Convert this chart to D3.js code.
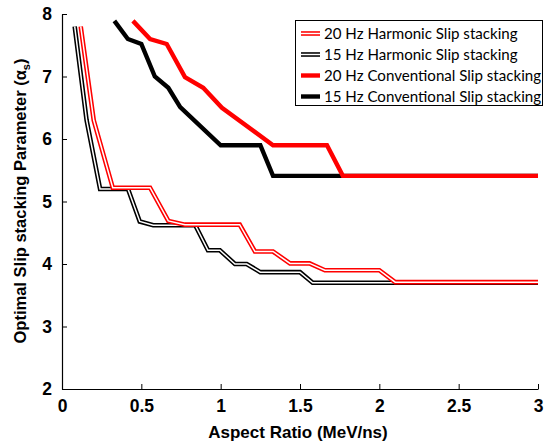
<!DOCTYPE html>
<html>
<head>
<meta charset="utf-8">
<script src="https://cdnjs.cloudflare.com/ajax/libs/d3/7.8.5/d3.min.js"></script>
<style>
  body { margin: 0; background: #fff; }
  .tick text { font-family: "Liberation Sans", Arial, sans-serif; font-weight: bold; font-size: 17.5px; }
  .axis-title { font-family: "Liberation Sans", Arial, sans-serif; font-weight: bold; }
  .legend text { font-family: Lato, "Open Sans", sans-serif; font-size: 15.1px; }
</style>
</head>
<body>
<svg id="chart" width="546" height="441"></svg>
<script>
// series data: [aspect ratio, alpha_s]
var harm15 = [[0.08,7.8],[0.155,6.3],[0.24,5.2],[0.416,5.2],[0.49,4.68],[0.575,4.62],[0.84,4.62],
              [0.92,4.22],[0.995,4.22],[1.09,4.0],[1.164,4.0],[1.25,3.87],[1.5,3.87],[1.58,3.7],[3.0,3.7]];
var harm20 = [[0.118,7.8],[0.2,6.3],[0.32,5.22],[0.555,5.22],[0.67,4.69],[0.775,4.63],[1.12,4.63],
              [1.216,4.2],[1.33,4.2],[1.437,4.01],[1.56,4.01],[1.657,3.9],[2.0,3.9],[2.1,3.71],[3.0,3.71]];
var conv15 = [[0.33,7.89],[0.415,7.6],[0.50,7.52],[0.585,7.0],[0.67,6.82],[0.745,6.51],[1.0,5.9],
              [1.25,5.9],[1.33,5.41],[3.0,5.41]];
var conv20 = [[0.447,7.89],[0.555,7.6],[0.66,7.52],[0.775,6.99],[0.89,6.82],[1.008,6.5],[1.33,5.9],
              [1.67,5.9],[1.77,5.41],[3.0,5.41]];

var xTicks = [0, 0.5, 1, 1.5, 2, 2.5, 3];
var yTicks = [2, 3, 4, 5, 6, 7, 8];

var legendItems = [
  {text: "20 Hz Harmonic Slip stacking", color: "#ff0000", kind: "harm"},
  {text: "15 Hz Harmonic Slip stacking", color: "#000000", kind: "harm"},
  {text: "20 Hz Conventional Slip stacking", color: "#ff0000", kind: "conv"},
  {text: "15 Hz Conventional Slip stacking", color: "#000000", kind: "conv"}
];

var margin = {left: 62, top: 14};
var w = 476, h = 375;

var svg = d3.select("#chart");
var g = svg.append("g").attr("transform", "translate(" + margin.left + "," + margin.top + ")");

var x = d3.scaleLinear().domain([0, 3]).range([0, w]);
var y = d3.scaleLinear().domain([2, 8]).range([h, 0]);

var line = d3.line().x(function(d) { return x(d[0]); }).y(function(d) { return y(d[1]); });

// axes, ticks pointing inward
var xAxis = g.append("g").attr("transform", "translate(0," + h + ")")
  .call(d3.axisBottom(x).tickValues(xTicks).tickSizeInner(-5).tickSizeOuter(0).tickPadding(11)
        .tickFormat(function(d) { return d; }));
var yAxis = g.append("g")
  .call(d3.axisLeft(y).tickValues(yTicks).tickSizeInner(-5).tickSizeOuter(0).tickPadding(10)
        .tickFormat(d3.format("d")));
[xAxis, yAxis].forEach(function(a) {
  a.select(".domain").attr("stroke", "#000").attr("stroke-width", 1.2);
  a.selectAll(".tick line").attr("stroke", "#000");
  a.selectAll(".tick text").attr("fill", "#000");
});

function drawHarm(data, color) {
  g.append("path").datum(data).attr("d", line).attr("fill", "none")
    .attr("stroke", color).attr("stroke-width", 4.6).attr("stroke-linejoin", "miter");
  g.append("path").datum(data).attr("d", line).attr("fill", "none")
    .attr("stroke", "#fff").attr("stroke-width", 1.5).attr("stroke-linejoin", "miter");
}
function drawConv(data, color) {
  g.append("path").datum(data).attr("d", line).attr("fill", "none")
    .attr("stroke", color).attr("stroke-width", 4.4).attr("stroke-linejoin", "miter");
}

drawHarm(harm15, "#000");
drawHarm(harm20, "#ff0000");
drawConv(conv15, "#000");
drawConv(conv20, "#ff0000");

// axis titles
svg.append("text").attr("class", "axis-title").attr("font-size", "17px")
  .attr("x", 298).attr("y", 438).attr("text-anchor", "middle")
  .text("Aspect Ratio (MeV/ns)");

var yt = svg.append("text").attr("class", "axis-title").attr("font-size", "16.5px")
  .attr("transform", "translate(26,201) rotate(-90)").attr("text-anchor", "middle");
yt.append("tspan").text("Optimal Slip stacking Parameter (α");
yt.append("tspan").attr("dy", 4).attr("font-size", "11px").text("s");
yt.append("tspan").attr("dy", -4).text(")");

// legend
var lg = svg.append("g").attr("class", "legend");
lg.append("rect").attr("x", 295.5).attr("y", 20.5).attr("width", 247).attr("height", 85)
  .attr("fill", "#fff").attr("stroke", "#000").attr("stroke-width", 1);
legendItems.forEach(function(it, i) {
  var cy = 33.5 + i * 21;
  var seg = [[301, cy], [320, cy]];
  var l2 = d3.line();
  if (it.kind === "harm") {
    lg.append("path").attr("d", l2(seg)).attr("stroke", it.color).attr("stroke-width", 4.6);
    lg.append("path").attr("d", l2(seg)).attr("stroke", "#fff").attr("stroke-width", 1.5);
  } else {
    lg.append("path").attr("d", l2(seg)).attr("stroke", it.color).attr("stroke-width", 4.4);
  }
  lg.append("text").attr("x", 324).attr("y", cy + 5).attr("fill", "#000").text(it.text);
});
</script>
</body>
</html>
